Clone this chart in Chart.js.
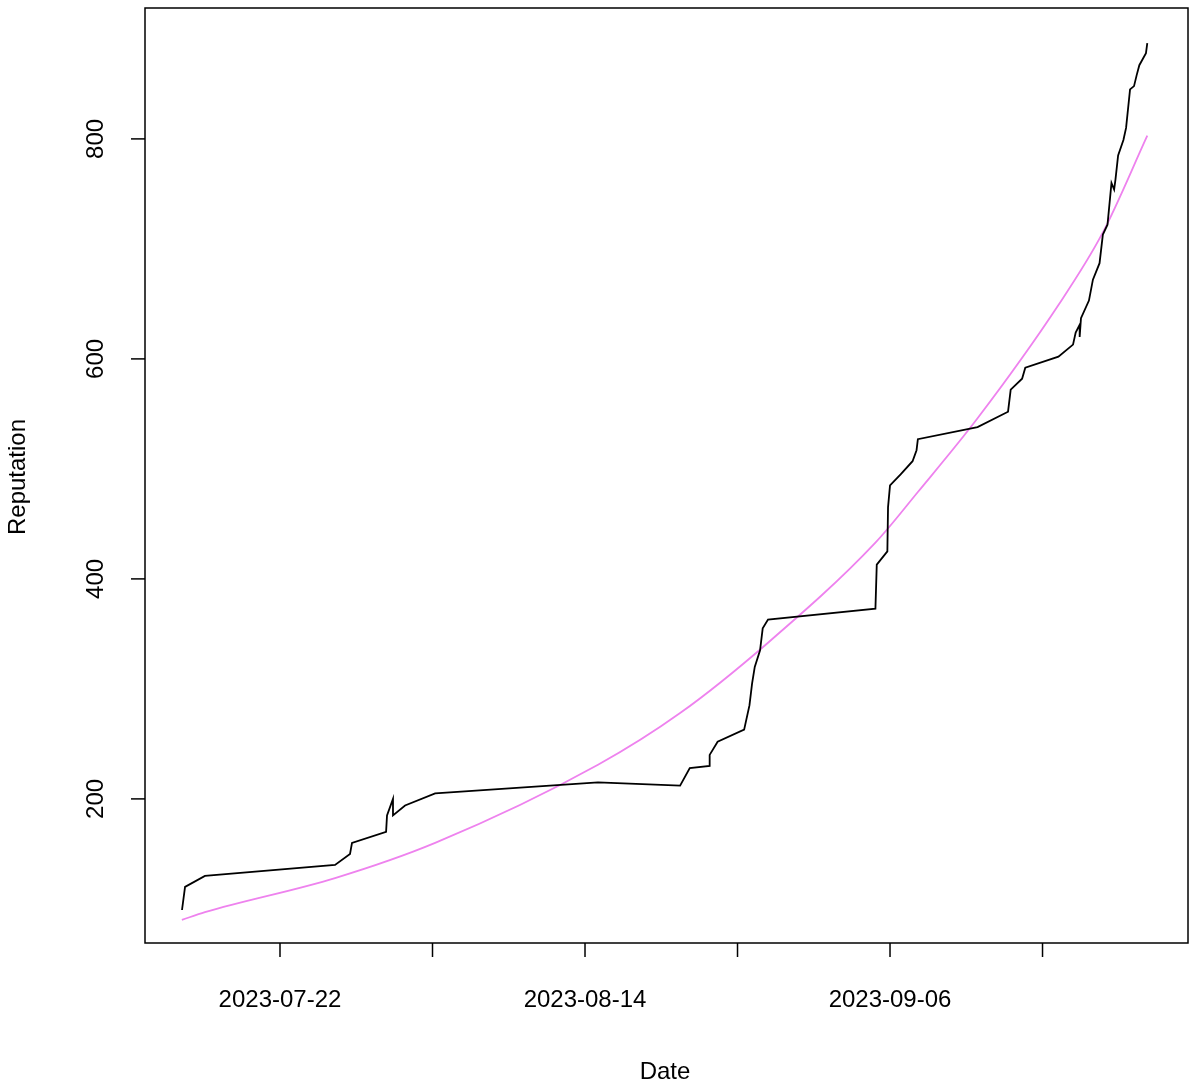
<!DOCTYPE html>
<html><head><meta charset="utf-8">
<script src="https://cdn.jsdelivr.net/npm/chart.js@4"></script>
<style>html,body{margin:0;padding:0;background:#fff}#wrap{width:1200px;height:1089px}</style>
</head><body><div id="wrap"><canvas id="c"></canvas></div>
<script>
// days since 2023-07-22
const repDays = [-7.39,-7.16,-5.66,4.15,5.28,5.43,8.0,8.07,8.52,8.52,9.43,11.7,23.98,30.17,30.9,32.4,32.4,33.0,35.0,35.4,35.6,35.8,36.2,36.4,36.8,44.9,45.0,45.8,45.85,46.0,46.8,47.7,48.0,48.1,52.6,54.9,55.1,55.96,56.2,58.7,59.8,60.0,60.3,60.3,60.4,61.0,61.3,61.8,62.05,62.4,62.7,62.9,63.0,63.2,63.6,63.8,64.1,64.4,64.6,64.8,65.3,65.4];
const repValues = [99,120,130,140,150,160,170,185,200,185,194,205,215,212,228,230,240,252,263,285,305,320,335,355,363,373,413,425,465,485,495,507,517,527,538,552,572,582,592,602,613,624,631,620,637,653,672,687,713,722,760,754,763,785,799,810,845,848,858,867,878,887];
const fitDays = [-7.4,-5.66,4.15,11.7,23.98,30.17,36.8,44.9,48.1,52.6,58.7,62.05,65.4];
const fitValues = [90,97,128,160,231,278,342,433,479,546,649,715,803];
const xTickDays = [0,11.5,23,34.5,46,57.5];
const xTickLabels = ["2023-07-22","","2023-08-14","","2023-09-06",""];
const yTicks = [200,400,600,800];

const pts = (xs,ys)=>xs.map((x,i)=>({x, y:ys[i]}));
const FONT = '24px "Liberation Sans", Arial, sans-serif';
const deco = {
  id:'deco',
  afterDraw(ch){
    const c=ch.ctx, a=ch.chartArea, xs=ch.scales.x, ys=ch.scales.y;
    c.save(); c.strokeStyle='#000'; c.lineWidth=1.5; c.fillStyle='#000'; c.font=FONT;
    c.strokeRect(a.left,a.top,a.right-a.left,a.bottom-a.top);
    c.textAlign='center'; c.textBaseline='middle';
    xTickDays.forEach((d,i)=>{const px=xs.getPixelForValue(d);
      c.beginPath();c.moveTo(px,a.bottom);c.lineTo(px,a.bottom+14);c.stroke();
      if(xTickLabels[i]) c.fillText(xTickLabels[i],px,1000);});
    yTicks.forEach(v=>{const py=ys.getPixelForValue(v);
      c.beginPath();c.moveTo(a.left,py);c.lineTo(a.left-14,py);c.stroke();
      c.save();c.translate(96,py);c.rotate(-Math.PI/2);c.fillText(String(v),0,0);c.restore();});
    c.fillText('Date',665,1072);
    c.save();c.translate(18,477);c.rotate(-Math.PI/2);c.fillText('Reputation',0,0);c.restore();
    c.restore();
  }
};
new Chart(document.getElementById('c'),{
  type:'line',
  data:{datasets:[
    {data:pts(repDays,repValues),borderColor:'#000',borderWidth:1.8,pointRadius:0,tension:0},
    {data:pts(fitDays,fitValues),borderColor:'#ee82ee',borderWidth:1.8,pointRadius:0,tension:0.4,cubicInterpolationMode:'monotone'}
  ]},
  options:{responsive:true,maintainAspectRatio:false,animation:false,
    layout:{padding:{left:145,right:12,top:8,bottom:146}},
    plugins:{legend:{display:false},tooltip:{enabled:false}},
    scales:{x:{type:'linear',min:-10.18,max:68.47,display:false},
            y:{min:69,max:919,display:false}}},
  plugins:[deco]
});
</script></body></html>
